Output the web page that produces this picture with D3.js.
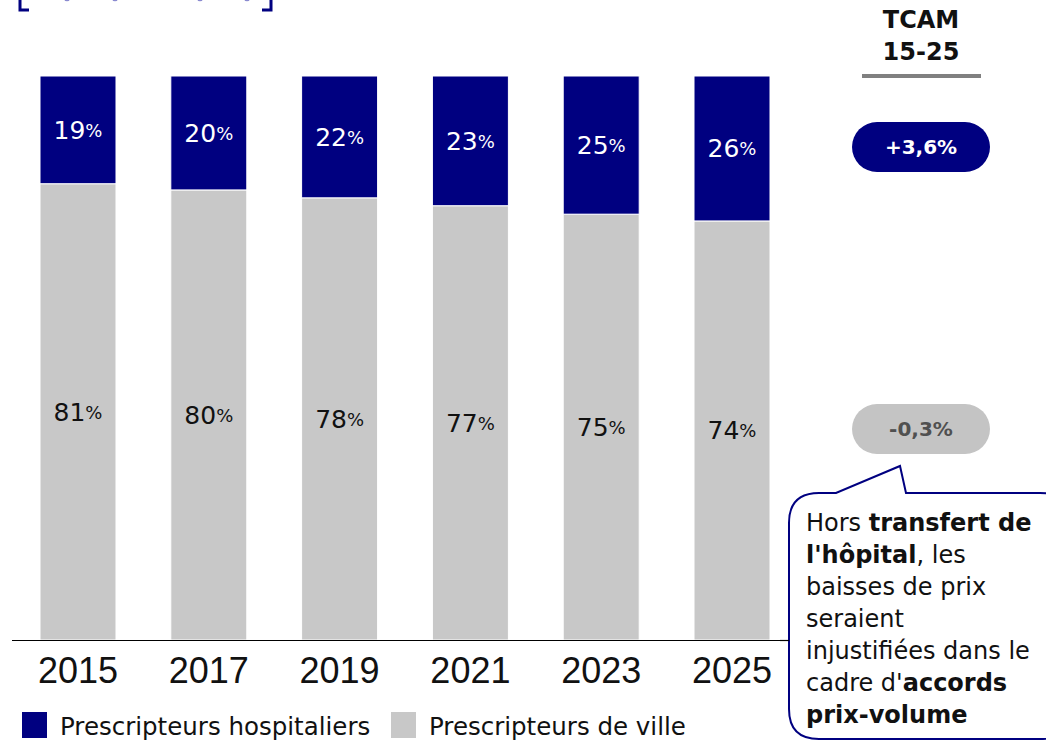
<!DOCTYPE html>
<html><head><meta charset="utf-8">
<script src="https://cdn.jsdelivr.net/npm/d3@7"></script>
<style>body{margin:0;background:#fff}svg{display:block}</style>
</head><body>
<svg id="c" width="1046" height="742"></svg>
<script>
const years = ["2015","2017","2019","2021","2023","2025"];
const hospitaliers = [19.1, 20.2, 21.6, 23.0, 24.5, 25.7];
const ville = [80.9, 79.8, 78.4, 77.0, 75.5, 74.3];
const hospLabels = ["19","20","22","23","25","26"];
const villeLabels = ["81","80","78","77","75","74"];
const legendLabels = ["Prescripteurs hospitaliers","Prescripteurs de ville"];
const tcamHosp = "+3,6%";
const tcamVille = "-0,3%";

const NAVY = "#000080", GRAY = "#c8c8c8";
const FONT = "'DejaVu Sans', sans-serif";
const svg = d3.select("#c");

const x = d3.scaleBand().domain(years).range([40, 770]).paddingInner(0.419).paddingOuter(0);
const y = d3.scaleLinear().domain([0, 100]).range([640, 76]);

const rows = years.map((yr, i) => ({year: yr, ville: ville[i], hosp: hospitaliers[i]}));
const stack = d3.stack().keys(["ville", "hosp"])(rows);
const colors = {ville: GRAY, hosp: NAVY};

// top bracket (cut-off title frame)
svg.append("path").attr("d", "M20,0V10H29").attr("fill", "none").attr("stroke", NAVY).attr("stroke-width", 3);
svg.append("path").attr("d", "M262,10H271V0").attr("fill", "none").attr("stroke", NAVY).attr("stroke-width", 3);
[67, 115, 200, 247].forEach(cx => svg.append("ellipse").attr("cx", cx).attr("cy", 0).attr("rx", 2.5).attr("ry", 1.2).attr("fill", "#8a8ad0"));

// bars
const g = svg.append("g");
stack.forEach(s => {
  g.selectAll(null).data(s).join("rect")
    .attr("x", d => x(d.data.year))
    .attr("width", x.bandwidth())
    .attr("y", d => y(d[1]))
    .attr("height", d => y(d[0]) - y(d[1]))
    .attr("fill", colors[s.key])
    .attr("stroke", "#fff").attr("stroke-width", 1);
});

// value labels
function pctLabel(sel, color) {
  sel.attr("text-anchor", "middle").attr("dominant-baseline", "central")
    .attr("font-family", FONT).attr("font-size", 25).attr("fill", color);
}
stack.forEach(s => {
  const labs = s.key === "hosp" ? hospLabels : villeLabels;
  const t = g.selectAll(null).data(s).join("text")
    .attr("x", d => x(d.data.year) + x.bandwidth() / 2)
    .attr("y", d => (y(d[0]) + y(d[1])) / 2)
    .call(pctLabel, s.key === "hosp" ? "#fff" : "#111");
  t.append("tspan").text((d, i) => labs[i]);
  t.append("tspan").attr("font-size", 18).text("%");
});

// axis
svg.append("line").attr("x1", 12).attr("x2", 795).attr("y1", 640.5).attr("y2", 640.5).attr("stroke", "#000").attr("stroke-width", 1.2);
const ax = svg.append("g").attr("transform", "translate(0,640)")
  .call(d3.axisBottom(x).tickSize(0).tickPadding(17));
ax.select(".domain").remove();
ax.selectAll("text").attr("font-family", "'Liberation Sans', Arial, sans-serif").attr("font-size", 36).attr("fill", "#111");

// legend
const leg = svg.append("g");
[[22, NAVY, legendLabels[0]], [391, GRAY, legendLabels[1]]].forEach(([lx, c, t]) => {
  leg.append("rect").attr("x", lx).attr("y", 712).attr("width", 25).attr("height", 26).attr("fill", c);
  leg.append("text").attr("x", lx + 38).attr("y", 726).attr("dominant-baseline", "central")
    .attr("font-family", FONT).attr("font-size", 24.5).attr("fill", "#111").text(t);
});

// TCAM header
const hx = 921;
svg.append("text").attr("x", hx).attr("y", 28).attr("text-anchor", "middle").attr("font-family", FONT)
  .attr("font-weight", "bold").attr("font-size", 24).attr("fill", "#111").text("TCAM");
svg.append("text").attr("x", hx).attr("y", 60).attr("text-anchor", "middle").attr("font-family", FONT)
  .attr("font-weight", "bold").attr("font-size", 24).attr("fill", "#111").text("15-25");
svg.append("line").attr("x1", 862).attr("x2", 981).attr("y1", 76).attr("y2", 76).attr("stroke", "#808080").attr("stroke-width", 4);

// pills
function pill(cy, fill, tc, txt) {
  svg.append("rect").attr("x", 852).attr("y", cy - 25).attr("width", 138).attr("height", 50).attr("rx", 25).attr("fill", fill);
  svg.append("text").attr("x", hx).attr("y", cy).attr("text-anchor", "middle").attr("dominant-baseline", "central")
    .attr("font-family", FONT).attr("font-weight", "bold").attr("font-size", 20).attr("fill", tc).text(txt);
}
pill(147, NAVY, "#fff", tcamHosp);
pill(429, "#c4c4c4", "#505050", tcamVille);

// callout
const L = 789, T = 493, R = 1070, B = 739, r = 30;
const callPath = `M${L + r},${T} L836,${T} L900,466 L906,${T} L${R - r},${T} Q${R},${T} ${R},${T + r} L${R},${B - r} Q${R},${B} ${R - r},${B} L${L + r},${B} Q${L},${B} ${L},${B - r} L${L},${T + r} Q${L},${T} ${L + r},${T} Z`;
svg.append("path").attr("d", callPath).attr("fill", "#fff").attr("stroke", NAVY).attr("stroke-width", 2);
svg.append("line").attr("x1", 780).attr("x2", 789).attr("y1", 640.5).attr("y2", 640.5).attr("stroke", "#000").attr("stroke-width", 1.2);

const lines = [
  [["Hors ", false], ["transfert de", true]],
  [["l'hôpital", true], [", les", false]],
  [["baisses de prix", false]],
  [["seraient", false]],
  [["injustifiées dans le", false]],
  [["cadre d'", false], ["accords", true]],
  [["prix-volume", true]]
];
const ct = svg.append("text").attr("font-family", FONT).attr("font-size", 24).attr("fill", "#111");
lines.forEach((ln, i) => {
  ln.forEach(([t, b], j) => {
    const ts = ct.append("tspan").text(t).attr("font-weight", b ? "bold" : "normal");
    if (j === 0) ts.attr("x", 806).attr("y", 531 + i * 32);
  });
});
</script>
</body></html>
